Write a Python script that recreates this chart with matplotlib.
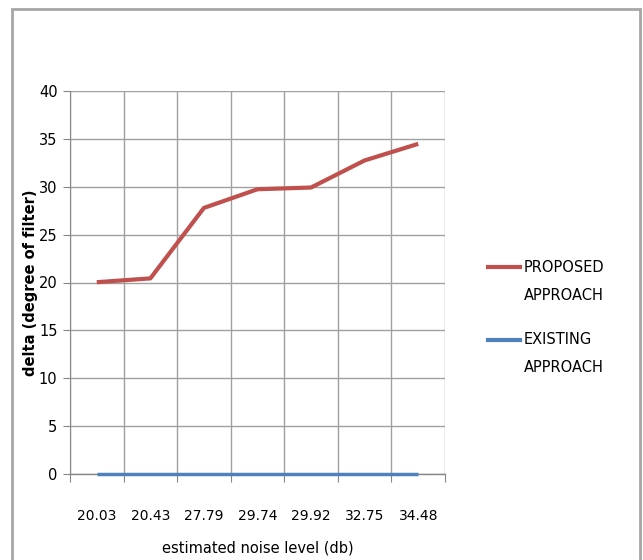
import matplotlib
matplotlib.use("Agg")
import matplotlib.pyplot as plt
from matplotlib.patches import Rectangle
from matplotlib.lines import Line2D

plt.rcParams['font.family'] = ['Liberation Sans Narrow', 'DejaVu Sans']

noise_levels = ["20.03", "20.43", "27.79", "29.74", "29.92", "32.75", "34.48"]
proposed = [20.03, 20.43, 27.79, 29.74, 29.92, 32.75, 34.48]
existing = [0, 0, 0, 0, 0, 0, 0]
series_names = ["PROPOSED\nAPPROACH", "EXISTING\nAPPROACH"]
series_colors = ["#c0504d", "#4f81bd"]

W, H = 643, 560
fig = plt.figure(figsize=(W / 100, H / 100), dpi=100)
fig.patch.set_facecolor("white")

# outer chart frame
fig.patches.append(Rectangle((12 / W, -0.05), 628 / W, 1.05 - 9 / H,
                             transform=fig.transFigure, fill=False,
                             edgecolor="#a6a6a6", linewidth=2))

ax = fig.add_axes([70 / W, 1 - 474 / H, 375 / W, 383 / H])
n = len(noise_levels)
xs = list(range(n))
ax.plot(xs, proposed, color=series_colors[0], linewidth=3,
        solid_capstyle="butt", zorder=3)
ax.plot(xs, existing, color=series_colors[1], linewidth=2.5,
        solid_capstyle="butt", clip_on=False, zorder=3)

ax.set_xlim(-0.5, n - 0.5)
ax.set_ylim(0, 40)
ax.set_yticks(range(0, 41, 5))
ax.set_xticks([i - 0.5 for i in range(n + 1)], minor=False)
ax.set_xticklabels([])
ax.set_xticks(xs, minor=True)
ax.set_xticklabels(noise_levels, minor=True)
ax.tick_params(axis="x", which="minor", length=0, pad=25, labelsize=10)
ax.tick_params(axis="x", which="major", length=6, color="#868686", direction="out")
ax.tick_params(axis="y", length=5, color="#868686", labelsize=10.5, pad=4)
ax.grid(True, which="major", color="#a0a0a0", linewidth=1)
ax.set_axisbelow(True)
for s in ["top", "right"]:
    ax.spines[s].set_visible(False)
ax.spines["left"].set_color("#868686")
ax.spines["bottom"].set_visible(False)
ax.axhline(0, color="#868686", linewidth=1, zorder=1, clip_on=False)

ax.set_xlabel("estimated noise level (db)", fontsize=10.5, labelpad=13)
ax.set_ylabel("delta (degree of filter)", fontsize=10.5, fontweight="bold",
              family=["DejaVu Sans"])
ax.yaxis.set_label_coords((38 - 70) / 375, 0.5)

# legend: a short line beside each two-line series name
leg_y = [267, 340]
for name, color, y in zip(series_names, series_colors, leg_y):
    fig.add_artist(Line2D([488 / W, 520 / W], [1 - y / H, 1 - y / H],
                          transform=fig.transFigure, color=color, linewidth=3))
    first, second = name.split("\n")
    fig.text(524 / W, 1 - y / H, first, fontsize=10.5, va="center", ha="left")
    fig.text(524 / W, 1 - (y + 28) / H, second, fontsize=10.5,
             va="center", ha="left")

fig.savefig("out.png", dpi=100)
